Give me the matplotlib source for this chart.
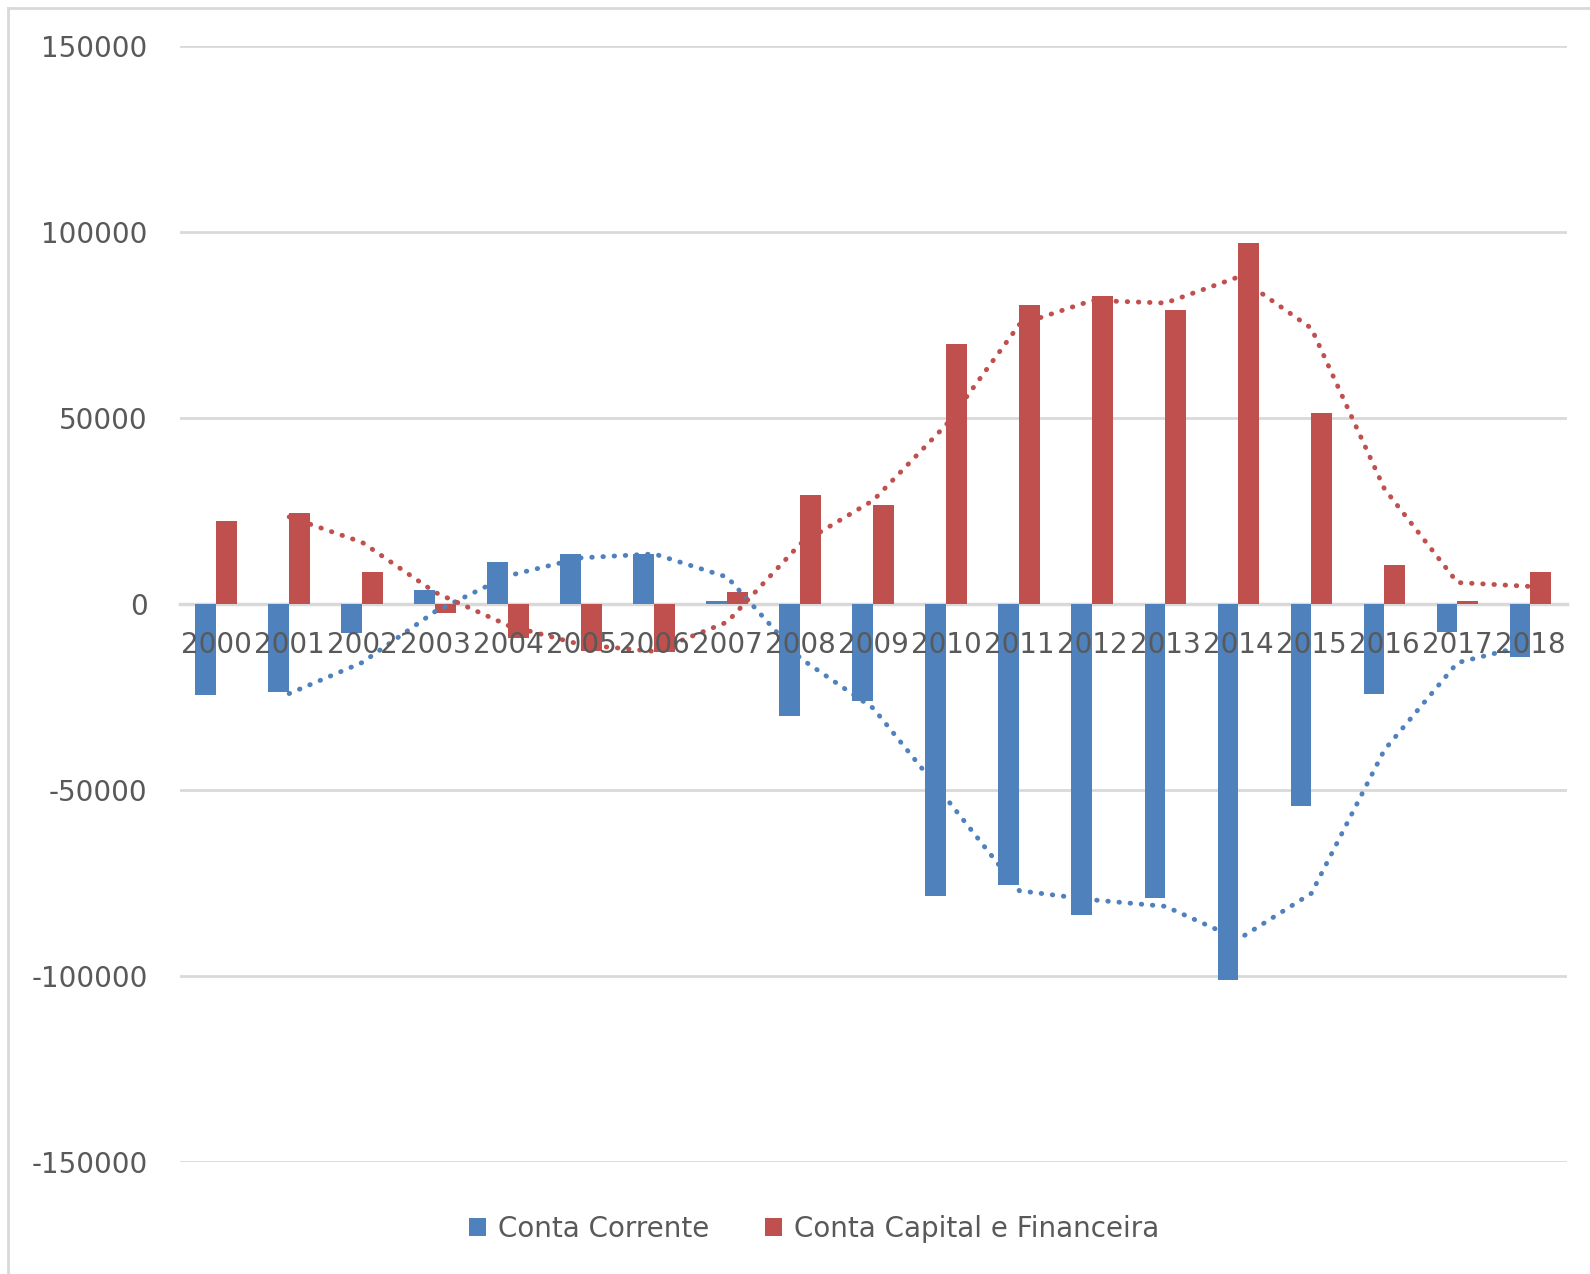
import numpy as np
import pandas as pd
from matplotlib import pyplot as plt
from matplotlib.lines import Line2D

# dados
anos = ['2000', '2001', '2002', '2003', '2004', '2005', '2006', '2007', '2008', '2009',
        '2010', '2011', '2012', '2013', '2014', '2015', '2016', '2017', '2018']
conta_corrente = [-24600, -23800, -7900, 3650, 11300, 13300, 13400, 800, -30200, -26100,
                  -78700, -75700, -83600, -79200, -101300, -54500, -24200, -7600, -14400]
conta_capital = [22200, 24400, 8500, -2500, -9300, -12800, -12900, 3000, 29100, 26400,
                 69800, 80200, 82800, 78800, 96800, 51200, 10500, 800, 8400]

azul = '#4F81BD'
vermelho = '#C0504D'
cinza_txt = '#595959'
cinza_grade = '#D9D9D9'

plt.rcParams['font.family'] = ['DejaVu Sans']

df = pd.DataFrame({'ano': anos, 'cc': conta_corrente, 'ccf': conta_capital})
# média móvel de 2 períodos (linha de tendência)
df['mm_cc'] = df['cc'].rolling(2).mean()
df['mm_ccf'] = df['ccf'].rolling(2).mean()

fig = plt.figure(figsize=(15.9, 12.74), dpi=100)
ax = fig.add_axes([0.113, 0.0883, 0.8725, 0.8759])

x = np.arange(len(df))
w = 1 / 3.5  # gap width 150%

ax.bar(x - w / 2, df['cc'], width=w, color=azul, label='Conta Corrente', zorder=3)
ax.bar(x + w / 2, df['ccf'], width=w, color=vermelho, label='Conta Capital e Financeira', zorder=3)

ax.plot(x[1:], df['mm_cc'][1:], color=azul, lw=3.5, linestyle=(0, (0.1, 2.2)),
        dash_capstyle='round', zorder=4)
ax.plot(x[1:], df['mm_ccf'][1:], color=vermelho, lw=3.5, linestyle=(0, (0.1, 2.2)),
        dash_capstyle='round', zorder=4)

ax.set_xlim(-0.5, len(df) - 0.5)
ax.set_ylim(-150000, 150000)
ax.set_yticks(np.arange(-150000, 150001, 50000))
ax.set_yticklabels([str(v) for v in range(-150000, 150001, 50000)])
ax.grid(axis='y', color=cinza_grade, linewidth=2, zorder=0)

ax.set_xticks(x)
ax.set_xticklabels(df['ano'])
ax.xaxis.set_zorder(5)  # rótulos dos anos por cima das barras

for s in ['top', 'right', 'left']:
    ax.spines[s].set_visible(False)
ax.spines['bottom'].set_position(('data', 0))
ax.spines['bottom'].set_color(cinza_grade)
ax.spines['bottom'].set_linewidth(2.5)
ax.spines['bottom'].set_zorder(2)

ax.tick_params(axis='x', length=0, pad=20, labelsize=20, labelcolor=cinza_txt)
ax.tick_params(axis='y', length=0, pad=23, labelsize=20, labelcolor=cinza_txt)

fig.legend(loc='center', bbox_to_anchor=(0.512, 0.0353), ncol=2, frameon=False,
           fontsize=20, labelcolor=cinza_txt, handlelength=0.61, handleheight=0.61,
           handletextpad=0.43, columnspacing=2.0)

# borda da área do gráfico
fig.add_artist(Line2D([8 / 1590, 8 / 1590], [0, 1 - 8 / 1274], color=cinza_grade,
                      lw=2, transform=fig.transFigure))
fig.add_artist(Line2D([8 / 1590, 1], [1 - 8 / 1274, 1 - 8 / 1274], color=cinza_grade,
                      lw=2, transform=fig.transFigure))

# título (cortado no topo, só aparecem as pontas das letras)
fig.text(0.58, 1 + 9 / 1274, 'Balanço de pagamentos do Brasil, 2000-2018',
         ha='center', va='baseline', fontsize=28, fontweight='bold', color='black')

fig.savefig('out.png', dpi=100)
